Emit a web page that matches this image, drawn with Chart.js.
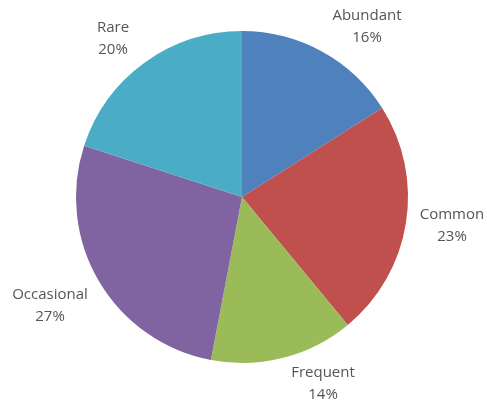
<!DOCTYPE html>
<html>
<head>
<meta charset="utf-8">
<script src="https://cdn.jsdelivr.net/npm/chart.js@4"></script>
<style>
  html, body { margin: 0; padding: 0; background: #ffffff; }
  #wrap { width: 487px; height: 403px; }
</style>
</head>
<body>
<div id="wrap"><canvas id="pieChart" width="487" height="403"></canvas></div>
<script>
// categories and values (percent)
const categories = ["Abundant", "Common", "Frequent", "Occasional", "Rare"];
const shares = [16, 23, 14, 27, 20];
const sliceColors = ["#4f81bd", "#c0504d", "#9bbb59", "#8064a2", "#4bacc6"];

// where each outside label sits (centre of the two-line block)
const labelSpots = [
  { x: 367, y: 27 },
  { x: 452, y: 226 },
  { x: 323, y: 384 },
  { x: 50, y: 306 },
  { x: 113, y: 39 }
];

// draws "Name / NN%" beside every slice
const outsideLabels = {
  id: "outsideLabels",
  afterDraw(chart) {
    const ctx = chart.ctx;
    const values = chart.data.datasets[0].data;
    const total = values.reduce((a, b) => a + b, 0);
    ctx.save();
    ctx.font = "15px 'Open Sans', sans-serif";
    ctx.fillStyle = "#555555";
    ctx.textAlign = "center";
    ctx.textBaseline = "middle";
    chart.data.labels.forEach(function (name, i) {
      const spot = labelSpots[i];
      const pct = Math.round(values[i] / total * 100) + "%";
      ctx.fillText(name, spot.x, spot.y - 11);
      ctx.fillText(pct, spot.x, spot.y + 11);
    });
    ctx.restore();
  }
};

const ctx1 = document.getElementById("pieChart").getContext("2d");

const pieChart = new Chart(ctx1, {
  type: "pie",
  data: {
    labels: categories,
    datasets: [
      {
        data: shares,
        backgroundColor: sliceColors,
        borderWidth: 0
      }
    ]
  },
  options: {
    responsive: false,
    animation: false,
    layout: {
      padding: { left: 76, right: 79, top: 31, bottom: 40 }
    },
    plugins: {
      legend: { display: false },
      tooltip: { enabled: false }
    }
  },
  plugins: [outsideLabels]
});
</script>
</body>
</html>
